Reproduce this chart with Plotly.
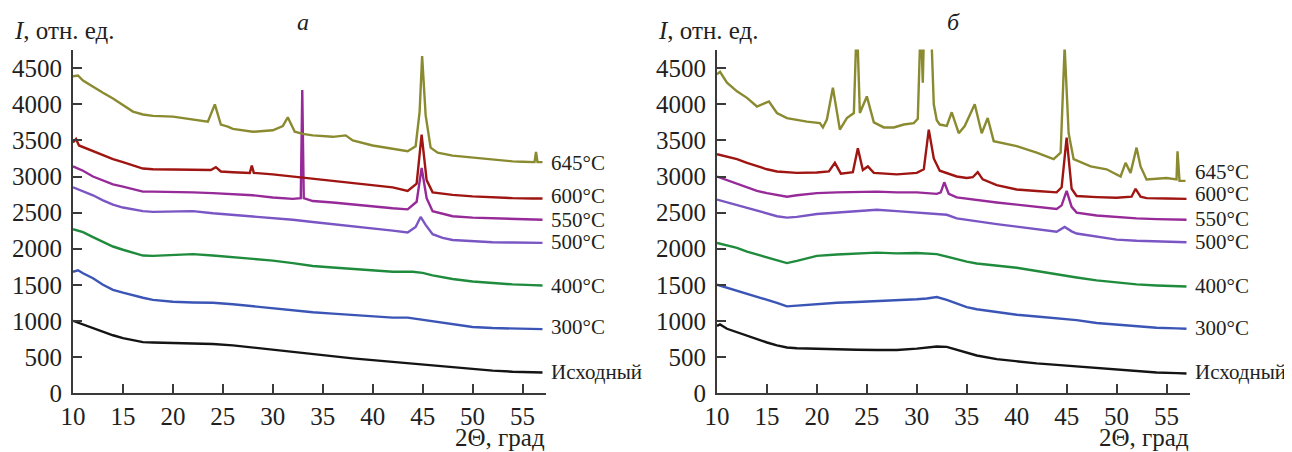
import plotly.graph_objects as go

# ---------------- Panel а ----------------
a_init_x = [10, 11, 12, 13, 14, 15, 16, 17, 18, 20, 22, 24, 26, 28, 30, 32, 34, 36, 38, 40, 42, 44, 46, 48, 50, 52, 54, 56, 57]
a_init_y = [1000, 950, 890, 840, 800, 760, 730, 705, 700, 695, 690, 680, 660, 630, 600, 570, 530, 500, 480, 455, 430, 400, 375, 350, 325, 310, 295, 290, 285]

a_300_x = [10, 10.5, 11, 12, 13, 14, 15, 16, 17, 18, 20, 22, 24, 26, 28, 30, 32, 34, 36, 38, 40, 42, 43.5, 45, 46, 48, 50, 52, 54, 56, 57]
a_300_y = [1680, 1700, 1660, 1590, 1500, 1430, 1390, 1350, 1320, 1290, 1265, 1255, 1250, 1230, 1200, 1180, 1150, 1120, 1100, 1080, 1060, 1045, 1045, 1015, 990, 945, 915, 900, 890, 885, 885]

a_400_x = [10, 11, 12, 13, 14, 15, 16, 17, 18, 20, 22, 24, 26, 28, 30, 32, 34, 36, 38, 40, 42, 44, 45, 46, 48, 50, 52, 54, 56, 57]
a_400_y = [2270, 2230, 2160, 2090, 2030, 1985, 1940, 1905, 1900, 1915, 1925, 1905, 1885, 1860, 1835, 1800, 1760, 1740, 1720, 1690, 1680, 1680, 1665, 1630, 1580, 1545, 1520, 1505, 1495, 1490]

a_500_x = [10, 11, 12, 13, 14, 15, 16, 17, 18, 20, 22, 24, 26, 28, 30, 32, 34, 36, 38, 40, 42, 43.5, 44.3, 44.8, 45.3, 46, 47, 48, 50, 52, 54, 56, 57]
a_500_y = [2850, 2800, 2740, 2670, 2610, 2570, 2540, 2520, 2510, 2515, 2520, 2490, 2470, 2450, 2430, 2400, 2370, 2340, 2320, 2290, 2250, 2225, 2300, 2440, 2330, 2200, 2150, 2120, 2100, 2090, 2085, 2080, 2080]

a_550_x = [10, 11, 12, 13, 14, 15, 16, 17, 18, 20, 22, 24, 26, 28, 30, 32, 32.8, 32.95, 33.1, 34, 36, 38, 40, 42, 43.5, 44.4, 44.9, 45.4, 46, 47, 48, 50, 52, 54, 56, 57]
a_550_y = [3140, 3080, 3000, 2940, 2890, 2860, 2820, 2790, 2790, 2790, 2780, 2770, 2760, 2740, 2710, 2690, 2700, 4200, 2700, 2660, 2640, 2610, 2580, 2560, 2545, 2650, 3120, 2700, 2520, 2480, 2450, 2430, 2420, 2410, 2400, 2400]

a_600_x = [10, 10.3, 10.6, 12, 13, 14, 15, 16, 17, 18, 20, 22, 23.8, 24.3, 24.8, 26, 27.7, 27.9, 28.1, 30, 32, 34, 36, 38, 40, 42, 43.5, 44.4, 44.9, 45.4, 46, 47, 48, 50, 52, 54, 56, 57]
a_600_y = [3470, 3520, 3430, 3350, 3290, 3240, 3200, 3150, 3110, 3100, 3095, 3090, 3090, 3130, 3070, 3060, 3050, 3150, 3050, 3030, 3000, 2970, 2950, 2920, 2890, 2850, 2800, 2900, 3580, 2950, 2780, 2760, 2745, 2725, 2710, 2700, 2695, 2695]

a_645_x = [10, 10.5, 11, 12, 13, 14, 15, 16, 17, 18, 20, 22, 23.5, 24.2, 24.8, 25.5, 26, 28, 30, 31, 31.5, 32.2, 33, 34, 35, 36, 37.3, 38, 40, 42, 43.5, 44.3, 44.7, 44.95, 45.3, 45.8, 46.5, 48, 50, 52, 54, 55, 56.2, 56.35, 56.5, 57]
a_645_y = [4390, 4400, 4330, 4240, 4160, 4080, 3990, 3900, 3860, 3840, 3830, 3790, 3760, 4000, 3720, 3690, 3660, 3620, 3640, 3700, 3820, 3620, 3590, 3570, 3560, 3550, 3570, 3500, 3430, 3380, 3350, 3420, 3900, 4670, 3850, 3400, 3330, 3290, 3260, 3230, 3210, 3205, 3200, 3340, 3200, 3200]

# ---------------- Panel б ----------------
b_init_x = [10, 10.3, 11, 12, 13, 14, 15, 16, 17, 18, 20, 22, 24, 26, 28, 30, 31, 32, 33, 34, 35, 36, 38, 40, 42, 44, 46, 48, 50, 52, 54, 56, 57]
b_init_y = [930, 950, 890, 840, 790, 740, 700, 660, 630, 620, 610, 610, 600, 595, 595, 615, 630, 645, 640, 600, 555, 520, 470, 435, 410, 390, 370, 345, 320, 300, 285, 275, 270]

b_300_x = [10, 11, 12, 13, 14, 15, 16, 17, 18, 20, 22, 24, 26, 28, 30, 31, 32, 33, 34, 35, 36, 38, 40, 42, 44, 46, 48, 50, 52, 54, 56, 57]
b_300_y = [1500, 1460, 1410, 1370, 1330, 1290, 1250, 1200, 1210, 1240, 1250, 1260, 1270, 1280, 1300, 1310, 1330, 1290, 1240, 1190, 1160, 1120, 1085, 1060, 1040, 1010, 970, 945, 925, 905, 895, 890]

b_400_x = [10, 11, 12, 13, 14, 15, 16, 17, 18, 19, 20, 22, 24, 26, 28, 30, 32, 33, 34, 35, 36, 38, 40, 42, 44, 46, 48, 50, 52, 54, 56, 57]
b_400_y = [2080, 2050, 2010, 1960, 1920, 1890, 1840, 1800, 1830, 1870, 1900, 1920, 1935, 1945, 1935, 1940, 1925, 1890, 1850, 1820, 1795, 1770, 1735, 1690, 1640, 1600, 1560, 1530, 1505, 1490, 1480, 1475]

b_500_x = [10, 11, 12, 13, 14, 15, 16, 17, 18, 20, 22, 24, 26, 28, 30, 32, 33, 34, 35, 36, 38, 40, 42, 44, 44.8, 45.5, 46, 48, 50, 52, 54, 56, 57]
b_500_y = [2680, 2640, 2600, 2560, 2520, 2490, 2450, 2430, 2440, 2480, 2500, 2520, 2540, 2520, 2500, 2490, 2470, 2420, 2400, 2370, 2340, 2305, 2265, 2235, 2300, 2240, 2210, 2165, 2125, 2110, 2100, 2095, 2090]

b_550_x = [10, 11, 12, 13, 14, 15, 16, 17, 18, 20, 22, 24, 26, 28, 30, 32, 32.4, 32.75, 33.2, 34, 35, 36, 38, 40, 42, 44, 44.5, 45, 45.5, 46, 48, 50, 52, 54, 56, 57]
b_550_y = [3000, 2950, 2890, 2840, 2800, 2770, 2740, 2720, 2740, 2770, 2780, 2790, 2790, 2780, 2780, 2760, 2780, 2920, 2760, 2710, 2690, 2670, 2640, 2610, 2580, 2550, 2600, 2800, 2580, 2500, 2460, 2435, 2420, 2410, 2405, 2400]

b_600_x = [10, 11, 12, 13, 14, 15, 16, 17, 18, 20, 21.2, 21.8, 22.4, 23.6, 24.1, 24.6, 25.1, 25.7, 27, 28, 30, 30.7, 31.2, 31.7, 32.3, 33, 34, 35, 35.6, 36.1, 36.6, 38, 40, 42, 44, 44.5, 45, 45.5, 46, 48, 50, 51.5, 51.9, 52.4, 53, 55, 57]
b_600_y = [3310, 3280, 3240, 3190, 3140, 3100, 3070, 3055, 3050, 3055, 3070, 3190, 3040, 3060, 3390, 3090, 3140, 3050, 3040, 3030, 3050, 3100, 3650, 3250, 3080, 3050, 3000, 2980, 2990, 3060, 2960, 2880, 2820, 2800, 2780, 2850, 3540, 2830, 2730, 2715, 2705, 2720, 2830, 2720, 2700, 2695, 2690]

b_645_x = [10, 10.3, 11, 12, 13, 14, 15.2, 16, 17, 18, 19, 20.3, 20.6, 21, 21.6, 22.3, 23, 23.7, 24.0, 24.3, 25.0, 25.7, 26.7, 27.7, 28.7, 29.7, 30.1, 30.4, 30.6, 30.8, 31.1, 31.4, 31.7, 32.0, 32.3, 33.0, 33.5, 34.2, 34.8, 35.8, 36.5, 37.1, 37.7, 40, 42, 43.7, 44.4, 44.8, 45.2, 45.7, 47.4, 49, 50.4, 50.9, 51.4, 52.0, 52.4, 53, 55, 56.0, 56.1, 56.3, 56.9]
b_645_y = [4417, 4450, 4300, 4180, 4090, 3970, 4040, 3880, 3810, 3780, 3760, 3740, 3680, 3790, 4230, 3650, 3810, 3880, 5200, 3880, 4110, 3750, 3680, 3680, 3720, 3740, 3800, 5200, 4300, 5500, 6000, 5200, 4000, 3780, 3720, 3700, 3890, 3600, 3700, 4000, 3600, 3810, 3490, 3420, 3330, 3240, 3330, 4800, 3600, 3240, 3140, 3100, 3000, 3190, 3050, 3400, 3140, 2960, 2980, 2960, 3350, 2940, 2940]

# ---------------- Labels ----------------
series_names = ["Исходный", "300°C", "400°C", "500°C", "550°C", "600°C", "645°C"]
series_colors = ["#141414", "#3b55b6", "#1f8b3d", "#7a55c4", "#962a98", "#9e1512", "#8a8a30"]
label_py_a = [372, 327, 286, 242, 220, 196, 163]
label_py_b = [372, 328, 286, 242, 219, 194, 172]
y_ticks = [0, 500, 1000, 1500, 2000, 2500, 3000, 3500, 4000, 4500]
x_ticks = [10, 15, 20, 25, 30, 35, 40, 45, 50, 55]

panel_a = [(a_init_x, a_init_y), (a_300_x, a_300_y), (a_400_x, a_400_y), (a_500_x, a_500_y),
           (a_550_x, a_550_y), (a_600_x, a_600_y), (a_645_x, a_645_y)]
panel_b = [(b_init_x, b_init_y), (b_300_x, b_300_y), (b_400_x, b_400_y), (b_500_x, b_500_y),
           (b_550_x, b_550_y), (b_600_x, b_600_y), (b_645_x, b_645_y)]

# page body has an 8px margin: build the figure 8px smaller and shift positions
OFF = 8
W, H = 1292 - OFF, 452 - OFF
FONT = "Liberation Serif"
TXT = "#231f20"

fig = go.Figure()
for i, (xs, ys) in enumerate(panel_a):
    fig.add_trace(go.Scatter(x=xs, y=ys, mode="lines", xaxis="x", yaxis="y",
                             line=dict(color=series_colors[i], width=2.4), showlegend=False,
                             name=series_names[i]))
for i, (xs, ys) in enumerate(panel_b):
    fig.add_trace(go.Scatter(x=xs, y=ys, mode="lines", xaxis="x2", yaxis="y2",
                             line=dict(color=series_colors[i], width=2.4), showlegend=False,
                             name=series_names[i]))

def px_x(p):
    return (p - OFF) / W

def px_y(p):
    return 1 - (p - OFF) / H

ax_common = dict(showline=True, linecolor="#3a3a3a", linewidth=2, ticks="inside", ticklen=9,
                 tickwidth=1.5, tickcolor="#3a3a3a", showgrid=False, zeroline=False,
                 automargin=False, tickfont=dict(family=FONT, size=25, color=TXT))

ydom = [px_y(393), px_y(49.5)]
fig.update_layout(
    template="none",
    width=W, height=H, margin=dict(l=0, r=0, t=0, b=0, pad=0, autoexpand=False),
    showlegend=False,
    font=dict(family=FONT, color=TXT),
    paper_bgcolor="white", plot_bgcolor="white",
    xaxis=dict(domain=[px_x(73), px_x(546)], range=[10, 57.35], tickvals=x_ticks,
               anchor="y", **ax_common),
    yaxis=dict(domain=ydom, range=[0, 4760], tickvals=y_ticks, anchor="x",
               ticklabelstandoff=4, **ax_common),
    xaxis2=dict(domain=[px_x(717), px_x(1190)], range=[10, 57.35], tickvals=x_ticks,
                anchor="y2", **ax_common),
    yaxis2=dict(domain=ydom, range=[0, 4760], tickvals=y_ticks, anchor="x2",
                ticklabelstandoff=4, **ax_common),
)

ann = []
for i, name in enumerate(series_names):
    ann.append(dict(x=px_x(549), y=px_y(label_py_a[i]), xref="paper", yref="paper", text=name,
                    showarrow=False, xanchor="left", yanchor="middle",
                    font=dict(family=FONT, size=21, color=TXT)))
    ann.append(dict(x=px_x(1193), y=px_y(label_py_b[i]), xref="paper", yref="paper", text=name,
                    showarrow=False, xanchor="left", yanchor="middle",
                    font=dict(family=FONT, size=21, color=TXT)))

for xl in (12, 656):
    ann.append(dict(x=px_x(xl), y=px_y(30), xref="paper", yref="paper",
                    text="<i>I</i>, отн. ед.", showarrow=False, xanchor="left", yanchor="middle",
                    font=dict(family=FONT, size=25, color=TXT)))
for xr in (546, 1190):
    ann.append(dict(x=px_x(xr), y=0, xref="paper", yref="paper",
                    text="2Θ, град", showarrow=False, xanchor="right", yanchor="bottom",
                    borderpad=0, font=dict(family=FONT, size=25, color=TXT)))
ann.append(dict(x=px_x(303), y=1, xref="paper", yref="paper", text="<i>а</i>",
                showarrow=False, xanchor="center", yanchor="top", borderpad=0,
                font=dict(family=FONT, size=24, color=TXT)))
ann.append(dict(x=px_x(953), y=1, xref="paper", yref="paper", text="<i>б</i>",
                showarrow=False, xanchor="center", yanchor="top", borderpad=0,
                font=dict(family=FONT, size=24, color=TXT)))
fig.update_layout(annotations=ann)

fig.write_html("out.html")
